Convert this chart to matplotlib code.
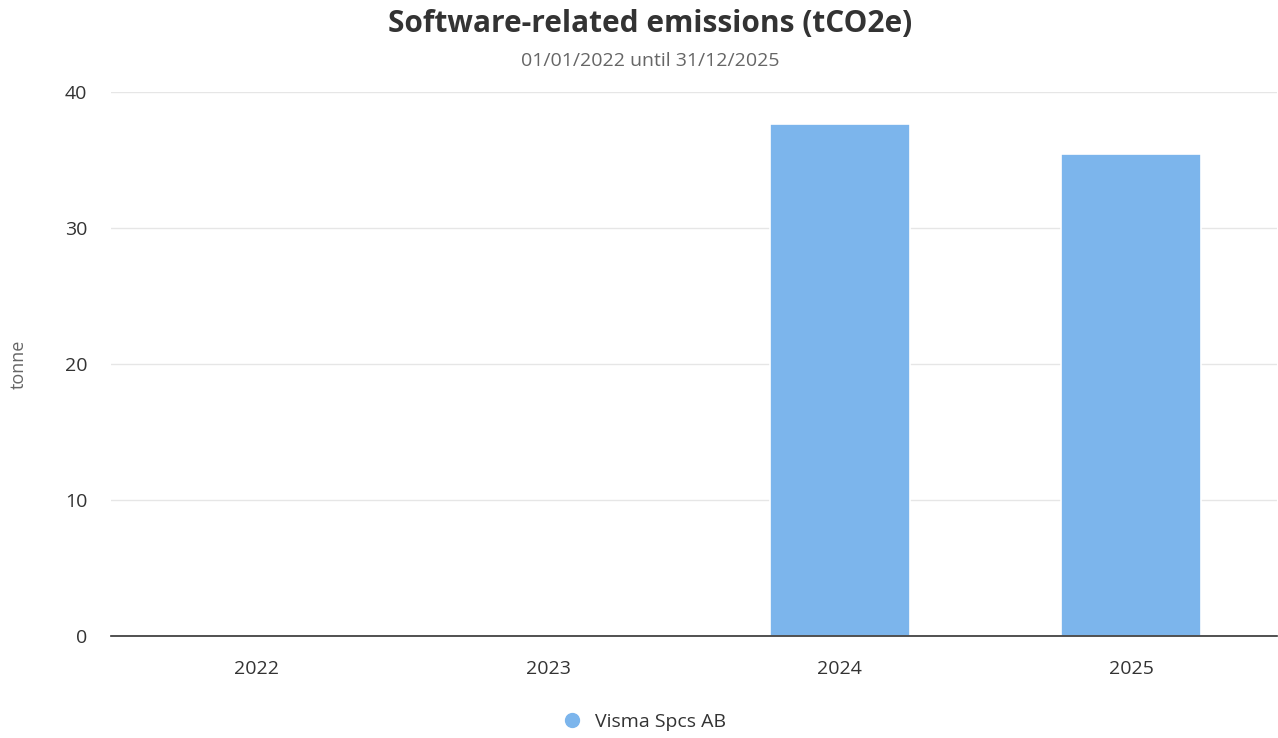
import matplotlib.pyplot as plt
from matplotlib.lines import Line2D

plt.rcParams['font.family'] = ['Open Sans', 'DejaVu Sans']

years = ['2022', '2023', '2024', '2025']
emissions = [0, 0, 37.65, 35.45]
series_name = 'Visma Spcs AB'
bar_color = '#7cb5ec'

fig = plt.figure(figsize=(12.78, 7.38), dpi=100)
ax = fig.add_axes([111 / 1278, 102 / 738, 1166 / 1278, 544 / 738])

x = range(len(years))
ax.bar(x, emissions, width=0.48, color=bar_color, edgecolor='white',
       linewidth=1.2, zorder=2)

ax.set_xlim(-0.5, len(years) - 0.5)
ax.set_ylim(0, 40)
ax.set_yticks([0, 10, 20, 30, 40])
ax.set_xticks(list(x))
ax.set_xticklabels(years)

ax.grid(axis='y', color='#e6e6e6', linewidth=1, zorder=0)
ax.set_axisbelow(True)
for side in ['top', 'right', 'left']:
    ax.spines[side].set_visible(False)
ax.spines['bottom'].set_color('#333333')
ax.spines['bottom'].set_linewidth(1.2)
ax.spines['bottom'].set_zorder(3)

ax.tick_params(axis='both', length=0, labelsize=14, labelcolor='#333333')
ax.tick_params(axis='y', pad=17)
ax.tick_params(axis='x', pad=17)

ax.set_ylabel('tonne', fontsize=13, color='#666666')
ax.yaxis.set_label_coords(-0.071, 0.5)

# header sits a little right of the figure middle
cx = 650 / 1278
fig.text(cx, 0.968, 'Software-related emissions (tCO2e)', ha='center', va='center',
         fontsize=21.5, fontweight='bold', color='#333333')
fig.text(cx, 0.918, '01/01/2022 until 31/12/2025', ha='center', va='center',
         fontsize=14, color='#666666')

handle = Line2D([], [], marker='o', linestyle='none', markersize=10,
                markerfacecolor=bar_color, markeredgecolor=bar_color)
fig.legend([handle], [series_name], loc='center', bbox_to_anchor=(0.5, 0.022),
           frameon=False, fontsize=14, labelcolor='#333333', handletextpad=0.2)

fig.savefig('out.png', dpi=100, facecolor='white')
